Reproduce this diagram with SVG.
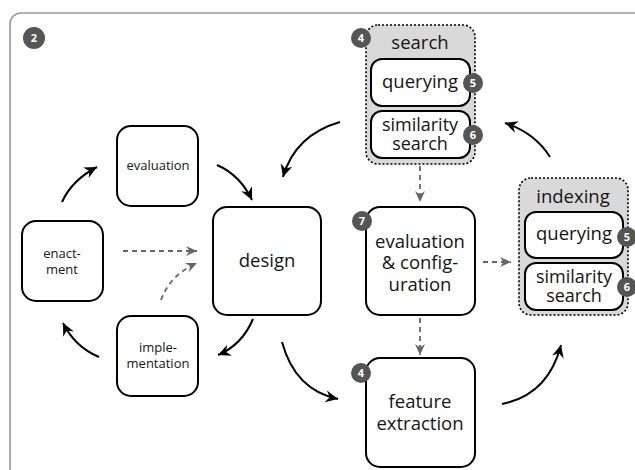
<svg xmlns="http://www.w3.org/2000/svg" width="635" height="470" viewBox="0 0 635 470">
  <style>
    .frame { fill: #fff; stroke: #999; stroke-width: 1.6; }
    .box { fill: #fff; stroke: #000; stroke-width: 2; }
    .group { fill: #d9d9d9; stroke: #000; stroke-width: 1.6; stroke-dasharray: 2 2; }
    .t { font-family: "Open Sans", "Liberation Sans", sans-serif; fill: #151515; text-anchor: middle; }
    .big { font-size: 18.5px; }
    .tight { font-size: 18px; }
    .small { font-size: 13px; }
    .badge circle { fill: #555; }
    .badge text { font-family: "Open Sans", "Liberation Sans", sans-serif; font-weight: bold; font-size: 11px; fill: #fff; text-anchor: middle; }
    .flow { fill: none; stroke: #000; stroke-width: 2; marker-end: url(#head); }
    .dep { fill: none; stroke: #666; stroke-width: 1.8; stroke-dasharray: 5 4; marker-end: url(#headGray); }
  </style>
  <defs>
    <marker id="head" viewBox="-13 -7 14 14" markerWidth="14" markerHeight="14" refX="0" refY="0" orient="auto" markerUnits="userSpaceOnUse">
      <path d="M0,0 L-12.5,-6 L-8.5,0 L-12.5,6 Z" fill="#000"/>
    </marker>
    <marker id="headGray" viewBox="-12 -6 13 12" markerWidth="13" markerHeight="12" refX="0" refY="0" orient="auto" markerUnits="userSpaceOnUse">
      <path d="M0,0 L-11,-5 L-7.5,0 L-11,5 Z" fill="#666"/>
    </marker>
  </defs>

  <!-- outer panel -->
  <rect class="frame" x="10" y="13" width="700" height="600" rx="11"/>
  <g id="panel-badge" class="badge">
    <circle cx="34" cy="38" r="11"/>
    <text x="34" y="42">2</text>
  </g>

  <!-- connectors -->
  <g id="connectors">
    <path class="flow" d="M62,202 Q72,180 97,167"/>
    <path class="flow" d="M217,165 Q240,175 252,200"/>
    <path class="flow" d="M340,122 Q295,135 283,177"/>
    <path class="flow" d="M253,319 Q242,345 218,355"/>
    <path class="flow" d="M99,357 Q75,347 63,323"/>
    <path class="flow" d="M282,342 Q295,390 338,399"/>
    <path class="flow" d="M502,404 Q548,395 561,345"/>
    <path class="flow" d="M550,157 Q535,133 505,123"/>
    <path class="dep" d="M420,166 L420,202"/>
    <path class="dep" d="M420,318 L420,355"/>
    <path class="dep" d="M483,262 L511,262"/>
    <path class="dep" d="M123,251 L197,251"/>
    <path class="dep" d="M161,300 Q170,275 197,263"/>
  </g>

  <!-- design cycle -->
  <g id="evaluation">
    <rect class="box" x="117" y="126" width="81" height="80" rx="14"/>
    <text class="t small" x="158" y="170">evaluation</text>
  </g>
  <g id="enactment">
    <rect class="box" x="22" y="221" width="81" height="80" rx="14"/>
    <text class="t small" x="62" y="258">enact-</text>
    <text class="t small" x="62" y="274">ment</text>
  </g>
  <g id="implementation">
    <rect class="box" x="117" y="316" width="81" height="80" rx="14"/>
    <text class="t small" x="158" y="352">imple-</text>
    <text class="t small" x="158" y="368">mentation</text>
  </g>
  <g id="design">
    <rect class="box" x="213" y="207" width="108" height="108" rx="14"/>
    <text class="t big" x="267" y="267">design</text>
  </g>

  <!-- search group -->
  <g id="search">
    <rect class="group" x="366" y="25" width="109" height="139" rx="12"/>
    <text class="t big" x="420" y="49">search</text>
    <g class="badge">
      <circle cx="361" cy="38" r="10"/>
      <text x="361" y="42">4</text>
    </g>
  </g>
  <g id="search-querying">
    <rect class="box" x="371" y="59" width="99" height="47" rx="11"/>
    <text class="t big" x="420" y="88">querying</text>
    <g class="badge">
      <circle cx="473" cy="83" r="10"/>
      <text x="473" y="87">5</text>
    </g>
  </g>
  <g id="search-similarity">
    <rect class="box" x="371" y="111" width="99" height="47" rx="11"/>
    <text class="t tight" x="420" y="131">similarity</text>
    <text class="t tight" x="420" y="150">search</text>
    <g class="badge">
      <circle cx="473" cy="135" r="10"/>
      <text x="473" y="139">6</text>
    </g>
  </g>

  <!-- evaluation & configuration -->
  <g id="eval-config">
    <rect class="box" x="366" y="207" width="109" height="108" rx="14"/>
    <text class="t big" x="420" y="248">evaluation</text>
    <text class="t big" x="420" y="269">&amp; config-</text>
    <text class="t big" x="420" y="291">uration</text>
    <g class="badge">
      <circle cx="362" cy="221" r="10"/>
      <text x="362" y="225">7</text>
    </g>
  </g>

  <!-- feature extraction -->
  <g id="feature-extraction">
    <rect class="box" x="366" y="358" width="109" height="109" rx="14"/>
    <text class="t big" x="420" y="408">feature</text>
    <text class="t big" x="420" y="430">extraction</text>
    <g class="badge">
      <circle cx="361" cy="373" r="10"/>
      <text x="361" y="377">4</text>
    </g>
  </g>

  <!-- indexing group -->
  <g id="indexing">
    <rect class="group" x="519" y="178" width="109" height="137" rx="12"/>
    <text class="t big" x="573" y="203">indexing</text>
  </g>
  <g id="indexing-querying">
    <rect class="box" x="525" y="212" width="98" height="46" rx="11"/>
    <text class="t big" x="574" y="240">querying</text>
    <g class="badge">
      <circle cx="627" cy="237" r="10"/>
      <text x="627" y="241">5</text>
    </g>
  </g>
  <g id="indexing-similarity">
    <rect class="box" x="525" y="263" width="98" height="47" rx="11"/>
    <text class="t tight" x="574" y="283">similarity</text>
    <text class="t tight" x="574" y="302">search</text>
    <g class="badge">
      <circle cx="627" cy="287" r="10"/>
      <text x="627" y="291">6</text>
    </g>
  </g>
</svg>
